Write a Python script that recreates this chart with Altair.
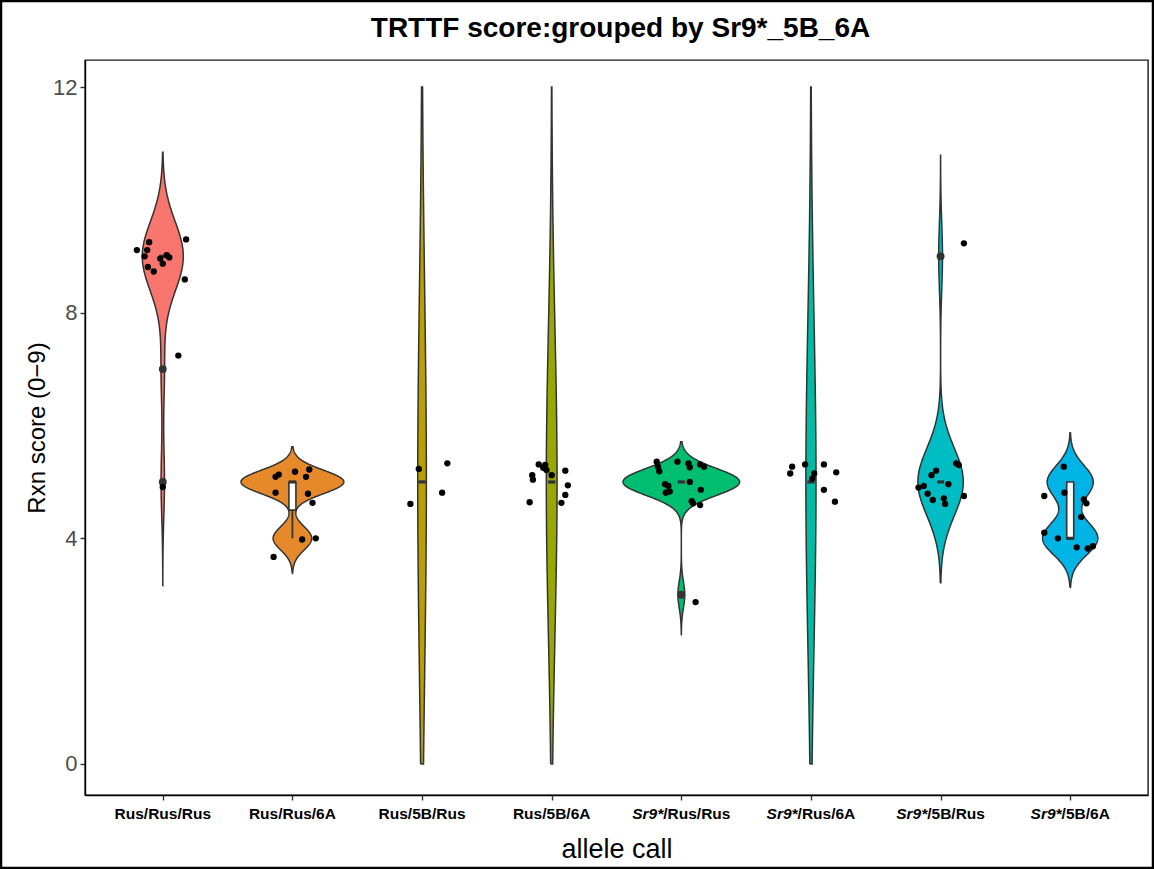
import numpy as np
import pandas as pd
import altair as alt

# ---------------- data ----------------
groups = ["Rus/Rus/Rus", "Rus/Rus/6A", "Rus/5B/Rus", "Rus/5B/6A",
          "Sr9*/Rus/Rus", "Sr9*/Rus/6A", "Sr9*/5B/Rus", "Sr9*/5B/6A"]
label_italic = ["", "", "", "", "Sr9*", "Sr9*", "Sr9*", "Sr9*"]
label_plain = ["Rus/Rus/Rus", "Rus/Rus/6A", "Rus/5B/Rus", "Rus/5B/6A",
               "/Rus/Rus", "/Rus/6A", "/5B/Rus", "/5B/6A"]
colors = ["#F8766D", "#E5892B", "#B9A000", "#98A800",
          "#00BE70", "#00BCA2", "#00BDC4", "#00B4E6"]
title_text = "TRTTF score:grouped by Sr9*_5B_6A"

# raw scores per group
scores = [
    [9, 9, 9, 9, 9, 9, 9, 9, 9, 9, 9, 9, 7, 5],
    [5, 5, 5, 5, 5, 5, 5, 5, 4, 4, 4],
    [5, 5, 5, 5],
    [5, 5, 5, 5, 5, 5, 5, 5, 5, 5, 5, 5],
    [5, 5, 5, 5, 5, 5, 5, 5, 5, 5, 5, 5, 5, 5, 5, 5, 5, 3],
    [5, 5, 5, 5, 5, 5, 5, 5, 5],
    [9, 5, 5, 5, 5, 5, 5, 5, 5, 5, 5, 5, 5],
    [5, 5, 5, 5, 5, 4, 4, 4, 4, 4, 4],
]

# jittered points as drawn: horizontal offset (category units) and value
jit_dx = [
    [-0.20, -0.105, -0.12, -0.14, -0.115, -0.07, -0.02, 0.0, 0.03, 0.05, 0.18, 0.17, 0.12, 0.0],
    [-0.13, -0.105, 0.02, 0.13, 0.105, -0.13, 0.12, 0.155, 0.075, 0.18, -0.145],
    [-0.025, 0.195, 0.155, -0.09],
    [-0.10, -0.05, -0.065, -0.04, -0.15, -0.145, 0.0, 0.105, 0.125, 0.105, 0.075, -0.17],
    [-0.19, -0.18, -0.17, -0.03, 0.055, 0.065, 0.145, 0.175, -0.125, -0.10, -0.12, -0.09,
     0.065, 0.15, 0.08, 0.09, 0.145, 0.11],
    [-0.145, -0.16, -0.045, 0.10, 0.195, 0.025, 0.01, 0.10, 0.185],
    [0.18, -0.17, -0.13, -0.07, -0.035, -0.10, -0.06, 0.025, 0.035, 0.06, 0.12, 0.14, 0.18],
    [-0.05, -0.20, -0.045, 0.105, 0.125, 0.085, -0.20, -0.095, 0.05, 0.135, 0.175],
]
jit_y = [
    [9.11, 9.25, 9.11, 9.00, 8.81, 8.73, 8.96, 8.87, 9.02, 8.98, 9.30, 8.59, 7.24, 4.91],
    [5.09, 5.13, 5.18, 5.22, 5.09, 4.81, 4.79, 4.63, 3.98, 4.00, 3.67],
    [5.23, 5.33, 4.81, 4.61],
    [5.31, 5.30, 5.25, 5.21, 5.12, 5.04, 5.12, 5.20, 4.94, 4.77, 4.63, 4.64],
    [5.36, 5.27, 5.19, 5.36, 5.33, 5.26, 5.31, 5.27, 4.96, 4.93, 4.81, 4.83,
     5.00, 4.86, 4.66, 4.62, 4.59, 2.87],
    [5.27, 5.15, 5.31, 5.31, 5.17, 5.15, 5.06, 4.86, 4.65],
    [9.23, 4.90, 4.93, 5.12, 5.20, 4.79, 4.68, 4.71, 4.61, 4.96, 5.33, 5.30, 4.75],
    [5.27, 4.75, 4.81, 4.69, 4.62, 4.38, 4.10, 4.00, 3.84, 3.82, 3.86],
]

y_ticks = [0, 4, 8, 12]
Y_LIMITS = (0, 12)

# ---------------- layout constants ----------------
W, H = 1063, 735
PAD = {"left": 85, "top": 60, "right": 6, "bottom": 74}
X_DOMAIN = [0.4, 8.6]
Y_DOMAIN = [-0.55, 12.48]
FONT = "Liberation Sans"
DARK = "#333333"

# ---------------- statistics (as ggplot's violin / boxplot) ----------------
def bw_nrd0(x):
    x = np.asarray(x, float)
    hi = np.std(x, ddof=1)
    q25, q75 = np.percentile(x, [25, 75])
    lo = min(hi, (q75 - q25) / 1.34)
    if not lo:
        lo = hi or abs(x[0]) or 1.0
    return 0.9 * lo * len(x) ** -0.2


def kde(x, grid, bw):
    x = np.asarray(x, float)
    z = (grid[:, None] - x[None, :]) / bw
    return np.exp(-0.5 * z ** 2).sum(axis=1) / (len(x) * bw * np.sqrt(2 * np.pi))


full_max = 0.0
tmp = []
for i, g in enumerate(groups):
    s = scores[i]
    bw = bw_nrd0(s)
    lo, hi = min(s) - 3 * bw, max(s) + 3 * bw
    full = np.linspace(lo, hi, 512)
    full_max = max(full_max, kde(s, full, bw).max())
    grid = np.linspace(max(lo, Y_LIMITS[0]), min(hi, Y_LIMITS[1]), 300)
    tmp.append((i, g, grid, kde(s, grid, bw)))

# closed polygon per group: up the left side, down the right side
vrows = []
for i, g, grid, dens in tmp:
    half = 0.45 * dens / full_max
    k = 0
    for yv, h in zip(grid, half):
        vrows.append({"group": g, "y": yv, "x": i + 1 - h, "k": k}); k += 1
    for yv, h in zip(grid[::-1], half[::-1]):
        vrows.append({"group": g, "y": yv, "x": i + 1 + h, "k": k}); k += 1
    vrows.append({"group": g, "y": grid[0], "x": i + 1 - half[0], "k": k})
violin_df = pd.DataFrame(vrows)

box_rows, whisk_rows, out_rows = [], [], []
BOX_HALF = 0.027
for i, g in enumerate(groups):
    s = np.asarray(scores[i], float)
    q1, med, q3 = np.percentile(s, [25, 50, 75])
    iqr = q3 - q1
    inside = s[(s >= q1 - 1.5 * iqr) & (s <= q3 + 1.5 * iqr)]
    wlo, whi = inside.min(), inside.max()
    box_rows.append({"group": g, "xl": i + 1 - BOX_HALF, "xr": i + 1 + BOX_HALF,
                     "q1": q1, "q3": q3, "med": med})
    whisk_rows.append({"group": g, "x": i + 1, "a": wlo, "b": q1})
    whisk_rows.append({"group": g, "x": i + 1, "a": q3, "b": whi})
    for v in s[(s < q1 - 1.5 * iqr) | (s > q3 + 1.5 * iqr)]:
        out_rows.append({"group": g, "x": i + 1, "v": v})
box_df = pd.DataFrame(box_rows)
whisk_df = pd.DataFrame(whisk_rows)
out_df = pd.DataFrame(out_rows)

pts_df = pd.DataFrame([
    {"group": g, "x": i + 1 + dx, "y": yv}
    for i, g in enumerate(groups)
    for dx, yv in zip(jit_dx[i], jit_y[i])
])

# x labels: italic prefix + plain remainder, centred on the tick
CW = {"S": 0.667, "r": 0.389, "9": 0.556, "*": 0.389, "/": 0.278, "R": 0.722,
      "u": 0.611, "s": 0.556, "5": 0.556, "B": 0.722, "6": 0.556, "A": 0.722}
LAB_FS = 15.5
px_per_unit = W / (X_DOMAIN[1] - X_DOMAIN[0])


def tw(t):
    return sum(CW.get(c, 0.6) for c in t) * LAB_FS


lab_df = pd.DataFrame([
    {"group": g, "it": label_italic[i], "pl": label_plain[i],
     "bx": i + 1 + (tw(label_italic[i]) - tw(label_plain[i])) / 2 / px_per_unit}
    for i, g in enumerate(groups)
])

# ---------------- encodings ----------------
xs = alt.Scale(domain=X_DOMAIN, nice=False, zero=False)
ys = alt.Scale(domain=Y_DOMAIN, nice=False, zero=False)
x_axis = alt.Axis(values=list(range(1, 9)), labels=False, grid=False, title="allele call",
                  titleFontSize=27, titlePadding=36, titleFontWeight="normal")
y_axis = alt.Axis(values=y_ticks, grid=False, title="Rxn score (0\u22129)",
                  titleFontSize=24, titlePadding=3, titleFontWeight="normal",
                  labelPadding=3)


def X(f):
    return alt.X(f, type="quantitative", scale=xs, axis=x_axis)


def Y(f):
    return alt.Y(f, type="quantitative", scale=ys, axis=y_axis)


color = alt.Color("group:N", scale=alt.Scale(domain=groups, range=colors), legend=None)

violins = alt.Chart(violin_df).mark_line(
    filled=True, stroke=DARK, strokeWidth=1.5, opacity=1, interpolate="linear"
).encode(y=Y("y"), x=X("x"), fill=color, detail="group:N",
         order=alt.Order("k:Q"))

whiskers = alt.Chart(whisk_df).mark_rule(color=DARK, strokeWidth=1.8).encode(
    x=X("x"), y=Y("a"), y2="b")

boxes = alt.Chart(box_df).mark_rect(fill="white", stroke=DARK, strokeWidth=1.6).encode(
    x=X("xl"), x2="xr", y=Y("q1"), y2="q3")

medians = alt.Chart(box_df).mark_rule(color=DARK, strokeWidth=3.2).encode(
    x=X("xl"), x2="xr", y=Y("med"))

outliers = alt.Chart(out_df).mark_circle(color=DARK, size=62, opacity=1).encode(
    x=X("x"), y=Y("v"))

points = alt.Chart(pts_df).mark_circle(color="black", size=40, opacity=1).encode(
    x=X("x"), y=Y("y"))

lab_it = alt.Chart(lab_df).mark_text(
    align="right", baseline="alphabetic", font=FONT, fontSize=LAB_FS,
    fontWeight="bold", fontStyle="italic", color="black"
).encode(x=X("bx"), y=alt.value(H + 24), text="it:N")

lab_pl = alt.Chart(lab_df).mark_text(
    align="left", baseline="alphabetic", font=FONT, fontSize=LAB_FS,
    fontWeight="bold", color="black"
).encode(x=X("bx"), y=alt.value(H + 24), text="pl:N")

title = alt.Chart(pd.DataFrame({"t": [title_text]})).mark_text(
    align="center", baseline="alphabetic", font=FONT, fontSize=28,
    fontWeight="bold", color="black"
).encode(x=alt.value(W / 2 + 4), y=alt.value(-23), text="t:N")

frame = alt.Chart(pd.DataFrame({"k": [0]})).mark_rect(
    fillOpacity=0, stroke="black", strokeWidth=2.5
).encode(x=alt.value(-PAD["left"] + 1), x2=alt.value(W + PAD["right"] - 1),
         y=alt.value(-PAD["top"] + 1), y2=alt.value(H + PAD["bottom"] - 1))

chart = alt.layer(
    violins, whiskers, boxes, medians, outliers, points, lab_it, lab_pl, title, frame
).properties(
    width=W, height=H,
    padding=PAD,
    autosize=alt.AutoSizeParams(type="none"),
    background="white",
).configure_view(
    stroke="#1a1a1a", strokeWidth=1.4
).configure_axis(
    domainColor="black", domainWidth=1.4, tickColor=DARK, tickWidth=1.4, tickSize=5,
    labelFont=FONT, labelFontSize=22, labelColor="#4D4D4D",
    titleFont=FONT, titleColor="black",
)

chart.save("out.html", embed_options={"renderer": "svg", "actions": False})
